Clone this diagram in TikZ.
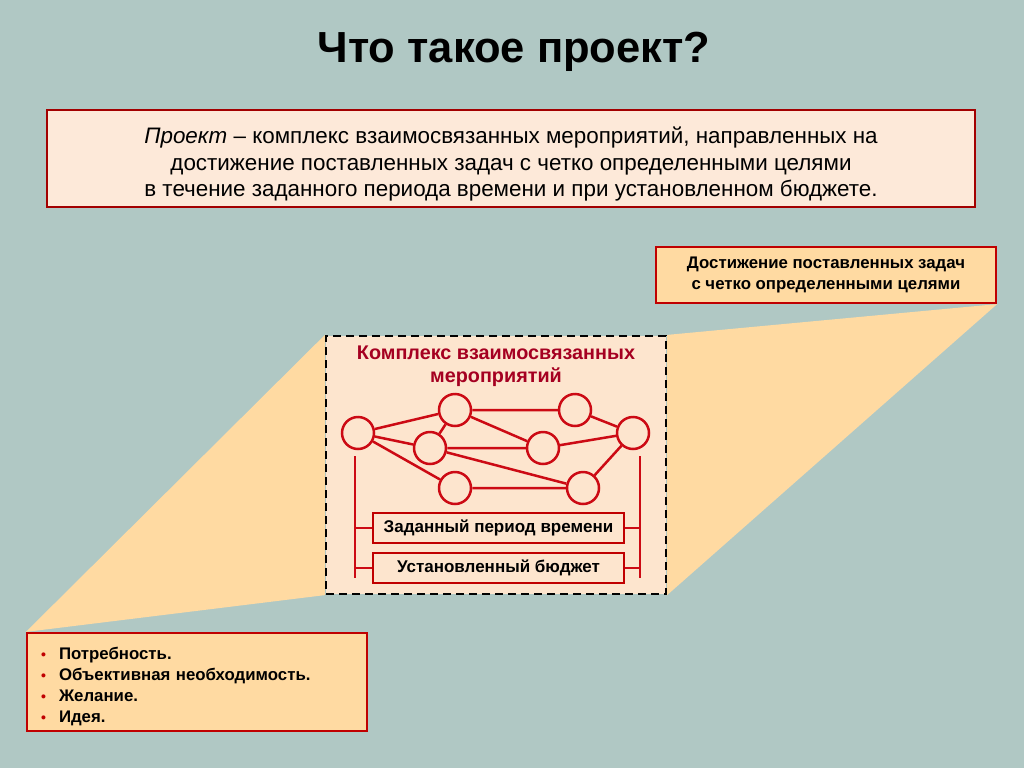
\documentclass[tikz,border=0pt]{standalone}
\usepackage{fontspec}
\setmainfont{Liberation Sans}
\usepackage{xcolor}
\usetikzlibrary{backgrounds}
\definecolor{slidebg}{HTML}{B0C8C4}
\definecolor{deffill}{HTML}{FDE9D9}
\definecolor{warmfill}{HTML}{FFDAA2}
\definecolor{cplxfill}{HTML}{FDE5CE}
\definecolor{boxred}{HTML}{C00000}
\definecolor{netred}{HTML}{CC0A14}
\definecolor{headred}{HTML}{A50021}
\newcommand{\bul}{\makebox[18pt][l]{\textcolor{boxred}{\fontsize{14}{14}\selectfont\textbullet}}}

\begin{document}
\begin{tikzpicture}[x=1pt,y=-1pt,
  defbox/.style={draw=boxred!85!black,line width=1.4pt,fill=deffill,minimum width=928pt,minimum height=97pt,align=center,font=\fontsize{22.4}{26.5}\selectfont},
  goalbox/.style={draw=boxred,line width=2.2pt,fill=warmfill,minimum width=340pt,minimum height=56pt,align=center,font=\fontsize{16.8}{20.5}\selectfont\bfseries},
  needbox/.style={draw=boxred,line width=2.2pt,fill=warmfill,minimum height=98pt,text width=312pt,inner xsep=14pt,align=left,font=\fontsize{16.8}{21}\selectfont\bfseries},
  cplxbox/.style={draw=black,line width=2.2pt,dash pattern=on 8pt off 5pt,fill=cplxfill,minimum width=340pt,minimum height=258pt},
  cplxhead/.style={text=headred,align=center,font=\fontsize{19.8}{22.5}\selectfont\bfseries},
  event/.style={circle,draw=netred,line width=2.5pt,fill=cplxfill,minimum size=32pt,inner sep=0pt},
  link/.style={draw=netred,line width=2.5pt},
  limbox/.style={draw=boxred,line width=1.3pt,fill=cplxfill,minimum width=251pt,minimum height=30pt,font=\fontsize{17}{18}\selectfont\bfseries},
  beam/.style={fill=warmfill}]
\useasboundingbox (0,0) rectangle (1024,768);

\node[anchor=base,font=\fontsize{43.5}{48}\selectfont\bfseries] (title) at (514,63) {Что такое проект?};

\node[defbox] (defn) at (511,158.5) {\rule{0pt}{28pt}\textit{Проект} – комплекс взаимосвязанных мероприятий, направленных на\\
  достижение поставленных задач с четко определенными целями\\
  в течение заданного периода времени и при установленном бюджете.};

\node[goalbox] (goals) at (826,275) {Достижение поставленных задач\\с четко определенными целями};

\node[needbox] (needs) at (197,682) {\rule{0pt}{21pt}\bul Потребность.\\\bul Объективная необходимость.\\\bul Желание.\\\bul Идея.};

\node[cplxbox] (cplx) at (496,465) {};
\node[cplxhead] (head) at (496,366) {Комплекс взаимосвязанных\\мероприятий};

% network of events
\node[event] (e1) at (358,433) {};
\node[event] (e2) at (455,410) {};
\node[event] (e3) at (575,410) {};
\node[event] (e4) at (430,448) {};
\node[event] (e5) at (543,448) {};
\node[event] (e6) at (633,433) {};
\node[event] (e7) at (455,488) {};
\node[event] (e8) at (583,488) {};
\draw[link] (e1) -- (e2) (e1) -- (e4) (e1) -- (e7)
  (e2) -- (e3) (e2) -- (e4) (e2) -- (e5) (e3) -- (e6)
  (e4) -- (e5) (e4) -- (e8) (e5) -- (e6) (e7) -- (e8) (e8) -- (e6);

% limits
\node[limbox] (period) at (498.5,528) {Заданный период времени};
\node[limbox] (budget) at (498.5,568) {Установленный бюджет};
\coordinate (lt) at (355,456);
\coordinate (lb) at (355,578);
\coordinate (rt) at (640,456);
\coordinate (rb) at (640,578);
\draw[link] (lt) -- (lb) (rt) -- (rb);
\draw[link] (period.west) -- (period.west -| lt) (budget.west) -- (budget.west -| lt)
  (period.east) -- (period.east -| rt) (budget.east) -- (budget.east -| rt);

\begin{scope}[on background layer]
\fill[slidebg] (0,0) rectangle (1024,768);
\fill[beam] (needs.north west) -- (cplx.north west) -- (cplx.south west) -- cycle;
\fill[beam] (goals.south east) -- (cplx.north east) -- (cplx.south east) -- cycle;
\end{scope}
\end{tikzpicture}
\end{document}
